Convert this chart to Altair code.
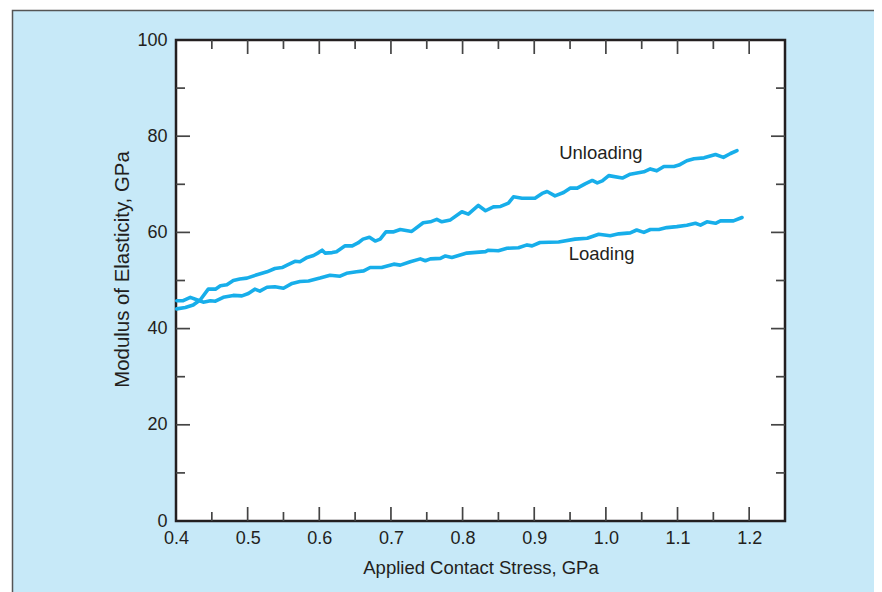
import altair as alt
import pandas as pd

# ---- data ----
x_unload = [0.401,0.413,0.424,0.434,0.445,0.455,0.462,0.471,0.480,0.489,0.499,0.513,0.527,0.538,0.548,
            0.555,0.566,0.573,0.583,0.592,0.599,0.604,0.608,0.618,0.624,0.636,0.646,0.654,0.661,0.670,
            0.678,0.685,0.693,0.703,0.713,0.729,0.745,0.755,0.764,0.771,0.783,0.799,0.808,0.822,0.832,
            0.843,0.853,0.864,0.871,0.883,0.901,0.911,0.918,0.929,0.941,0.950,0.960,0.971,0.981,0.988,
            0.995,1.004,1.023,1.034,1.053,1.062,1.071,1.081,1.095,1.102,1.113,1.123,1.137,1.153,1.164,
            1.174,1.183]
y_unload = [44.1,44.4,44.9,46.0,48.2,48.2,48.9,49.1,50.0,50.3,50.5,51.2,51.8,52.5,52.7,
            53.2,54.0,53.9,54.8,55.2,55.8,56.3,55.7,55.8,56.0,57.2,57.2,57.8,58.6,59.0,
            58.2,58.6,60.1,60.1,60.6,60.2,62.0,62.2,62.7,62.2,62.6,64.3,63.8,65.6,64.5,
            65.3,65.4,66.1,67.4,67.1,67.1,68.1,68.5,67.6,68.3,69.2,69.2,70.1,70.8,70.3,
            70.7,71.8,71.3,72.1,72.6,73.2,72.8,73.7,73.7,74.0,74.9,75.3,75.5,76.2,75.6,
            76.4,77.0]

x_load = [0.401,0.410,0.420,0.429,0.438,0.448,0.455,0.466,0.480,0.492,0.501,0.510,0.517,0.527,0.538,
          0.550,0.562,0.573,0.585,0.601,0.615,0.629,0.638,0.652,0.662,0.671,0.687,0.704,0.713,0.727,
          0.741,0.748,0.755,0.769,0.776,0.785,0.806,0.832,0.836,0.850,0.862,0.878,0.890,0.897,0.908,
          0.934,0.957,0.974,0.990,1.006,1.018,1.034,1.043,1.053,1.062,1.074,1.085,1.099,1.113,1.125,
          1.132,1.141,1.153,1.160,1.178,1.190]
y_load = [45.8,45.8,46.5,46.0,45.5,45.8,45.7,46.5,46.9,46.8,47.3,48.2,47.8,48.6,48.7,
          48.4,49.4,49.8,49.9,50.5,51.1,50.9,51.5,51.8,52.0,52.7,52.7,53.4,53.2,53.9,
          54.5,54.1,54.5,54.6,55.1,54.8,55.7,56.0,56.3,56.2,56.7,56.8,57.4,57.2,57.9,
          58.0,58.6,58.8,59.6,59.3,59.7,59.9,60.5,60.0,60.6,60.6,61.0,61.2,61.5,61.9,
          61.5,62.2,61.9,62.4,62.4,63.1]

label_text = ["Unloading", "Loading"]
label_x = [0.993, 0.994]
label_y = [75.3, 54.3]

x_tick_labels = [0.4, 0.5, 0.6, 0.7, 0.8, 0.9, 1.0, 1.1, 1.2]
y_tick_labels = [0, 20, 40, 60, 80, 100]
x_major_inner = [0.5, 0.6, 0.7, 0.8, 0.9, 1.0, 1.1, 1.2]
x_minor = [0.45, 0.55, 0.65, 0.75, 0.85, 0.95, 1.05, 1.15]
y_major_inner = [20, 40, 60, 80]
y_minor = [10, 30, 50, 70, 90]

# ---- styling ----
W, H = 609, 481
BLUE_BG = "#c7e9f8"
LINE = "#17aeea"
TXT = "#231f20"
TICK = "#444444"
FONT = "Liberation Sans"
MAJ, MIN = 14, 9

xscale = alt.Scale(domain=[0.4, 1.25], nice=False, zero=False)
yscale = alt.Scale(domain=[0, 100], nice=False, zero=False)

xaxis = alt.Axis(values=x_tick_labels, format=".1f", title="Applied Contact Stress, GPa",
                 ticks=False, tickSize=0, domain=False, grid=False,
                 labelFont=FONT, labelFontSize=18, labelColor=TXT, labelPadding=22,
                 labelBaseline="alphabetic", labelFlush=False,
                 titleFont=FONT, titleFontSize=18.5, titleFontWeight="normal", titleColor=TXT,
                 titleY=52, titleBaseline="alphabetic", zindex=1)
yaxis = alt.Axis(values=y_tick_labels, format="d", title="Modulus of Elasticity, GPa",
                 ticks=False, tickSize=0, domain=False, grid=False,
                 labelFont=FONT, labelFontSize=18, labelColor=TXT, labelPadding=9,
                 labelFlush=False,
                 titleFont=FONT, titleFontSize=20.4, titleFontWeight="normal", titleColor=TXT,
                 titleAngle=270, titleX=-54, titleY=229, titleAlign="center",
                 titleBaseline="middle", zindex=1)

one = pd.DataFrame({"a": [0]})

bg = alt.Chart(one).mark_rect(fill=BLUE_BG, stroke="#555555", strokeWidth=1.5).encode(
    x=alt.value(-163.5), x2=alt.value(W + 130), y=alt.value(-29.5), y2=alt.value(H + 90))

frame = alt.Chart(one).mark_rect(fill="white", stroke=TXT, strokeWidth=2.5).encode(
    x=alt.value(0), x2=alt.value(W), y=alt.value(0), y2=alt.value(H))

df = pd.concat([
    pd.DataFrame({"x": x_unload, "y": y_unload, "series": "Unloading", "i": range(len(x_unload))}),
    pd.DataFrame({"x": x_load, "y": y_load, "series": "Loading", "i": range(len(x_load))}),
])

lines = alt.Chart(df).mark_line(color=LINE, strokeWidth=3.6, strokeJoin="round", strokeCap="round").encode(
    x=alt.X("x:Q", scale=xscale, axis=xaxis),
    y=alt.Y("y:Q", scale=yscale, axis=yaxis),
    detail="series:N",
    order="i:Q",
)

lab_df = pd.DataFrame({"x": label_x, "y": label_y, "t": label_text})
labels = alt.Chart(lab_df).mark_text(font=FONT, fontSize=18.5, color=TXT, align="center",
                                     baseline="alphabetic").encode(
    x=alt.X("x:Q", scale=xscale, axis=xaxis),
    y=alt.Y("y:Q", scale=yscale, axis=yaxis),
    text="t:N")


def xticks(vals, length):
    d = pd.DataFrame({"x": vals})
    bottom = alt.Chart(d).mark_rule(color=TICK, strokeWidth=1.7).encode(
        x=alt.X("x:Q", scale=xscale, axis=xaxis), y=alt.value(H), y2=alt.value(H - length))
    top = alt.Chart(d).mark_rule(color=TICK, strokeWidth=1.7).encode(
        x=alt.X("x:Q", scale=xscale, axis=xaxis), y=alt.value(0), y2=alt.value(length))
    return [bottom, top]


def yticks(vals, length):
    d = pd.DataFrame({"y": vals})
    left = alt.Chart(d).mark_rule(color=TICK, strokeWidth=1.7).encode(
        y=alt.Y("y:Q", scale=yscale, axis=yaxis), x=alt.value(0), x2=alt.value(length))
    right = alt.Chart(d).mark_rule(color=TICK, strokeWidth=1.7).encode(
        y=alt.Y("y:Q", scale=yscale, axis=yaxis), x=alt.value(W), x2=alt.value(W - length))
    return [left, right]


layers = [bg, frame] + xticks(x_major_inner, MAJ) + xticks(x_minor, MIN) \
    + yticks(y_major_inner, MAJ) + yticks(y_minor, MIN) + [lines, labels]

chart = alt.layer(*layers).properties(
    width=W, height=H,
    autosize=alt.AutoSizeParams(type="none"),
    padding={"left": 168, "top": 32, "right": 89, "bottom": 71},
    background="white",
).configure_view(stroke=None)

chart.save("out.html", embed_options={"renderer": "svg", "actions": False})
